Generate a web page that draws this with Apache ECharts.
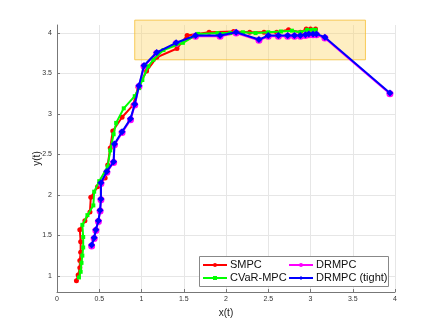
<!DOCTYPE html>
<html>
<head>
<meta charset="utf-8">
<script src="https://cdn.jsdelivr.net/npm/echarts@6/dist/echarts.min.js"></script>
<style>
  html, body { margin: 0; padding: 0; background: #fff; }
  #chart { width: 436px; height: 328px; }
</style>
</head>
<body>
<div id="chart"></div>
<script>
// trajectories
var smpcX = [0.23, 0.25, 0.27, 0.27, 0.28, 0.28, 0.27, 0.33, 0.39, 0.40, 0.48, 0.57, 0.60, 0.63, 0.66, 0.77, 0.90, 0.96, 1.06, 1.18, 1.42, 1.54, 1.80, 2.09, 2.28, 2.45, 2.60, 2.74, 2.88, 2.95, 3.00, 3.06];
var smpcY = [0.94, 1.01, 1.10, 1.19, 1.29, 1.42, 1.57, 1.68, 1.79, 1.97, 2.10, 2.21, 2.37, 2.58, 2.79, 2.96, 3.11, 3.33, 3.53, 3.70, 3.81, 3.97, 4.01, 4.02, 4.01, 4.01, 4.01, 4.04, 4.01, 4.05, 4.05, 4.05];

var cvarX = [0.26, 0.28, 0.29, 0.30, 0.31, 0.31, 0.30, 0.36, 0.43, 0.44, 0.50, 0.60, 0.63, 0.67, 0.70, 0.79, 0.92, 0.97, 1.01, 1.08, 1.14, 1.26, 1.49, 1.67, 1.90, 2.05, 2.20, 2.35, 2.50, 2.65, 2.78, 2.88, 2.96, 3.02, 3.06];
var cvarY = [0.98, 1.05, 1.16, 1.25, 1.35, 1.48, 1.63, 1.75, 1.87, 2.04, 2.17, 2.35, 2.55, 2.75, 2.89, 3.07, 3.22, 3.32, 3.42, 3.59, 3.67, 3.79, 3.88, 3.99, 4.00, 4.00, 4.01, 4.00, 4.01, 4.02, 4.03, 4.01, 4.04, 4.04, 4.04];

var drmpcX = [0.41, 0.44, 0.46, 0.49, 0.51, 0.52, 0.52, 0.59, 0.67, 0.68, 0.77, 0.87, 0.92, 0.97, 1.03, 1.18, 1.41, 1.64, 1.93, 2.12, 2.39, 2.50, 2.62, 2.73, 2.81, 2.88, 2.94, 2.98, 3.03, 3.07, 3.17, 3.94];
var drmpcY = [1.37, 1.46, 1.56, 1.67, 1.80, 1.94, 2.14, 2.28, 2.40, 2.62, 2.77, 2.93, 3.11, 3.34, 3.59, 3.75, 3.87, 3.96, 3.96, 4.00, 3.91, 3.96, 3.96, 3.96, 3.96, 3.96, 3.97, 3.98, 3.98, 3.98, 3.94, 3.25];

var tightX = [0.41, 0.44, 0.46, 0.49, 0.51, 0.52, 0.52, 0.59, 0.67, 0.68, 0.77, 0.87, 0.92, 0.97, 1.03, 1.18, 1.41, 1.64, 1.93, 2.12, 2.39, 2.50, 2.62, 2.73, 2.81, 2.88, 2.94, 2.98, 3.03, 3.07, 3.17, 3.94];
var tightY = [1.38, 1.47, 1.57, 1.68, 1.81, 1.95, 2.15, 2.29, 2.41, 2.63, 2.78, 2.94, 3.12, 3.35, 3.60, 3.76, 3.88, 3.97, 3.97, 4.01, 3.92, 3.97, 3.97, 3.97, 3.97, 3.97, 3.98, 3.99, 3.99, 3.99, 3.95, 3.26];

// target region (x from..to, y from..to)
var regionX = [0.92, 3.65];
var regionY = [3.67, 4.16];

var yTicks = [1, 1.5, 2, 2.5, 3, 3.5, 4];

function zip(xs, ys) {
  return xs.map(function (x, i) { return [x, ys[i]]; });
}

var font = 'Liberation Sans, Arial, Helvetica, sans-serif';
var chart = echarts.init(document.getElementById('chart'));

chart.setOption({
  animation: false,
  textStyle: { fontFamily: font },
  grid: { left: 57, right: 41, top: 25, bottom: 36 },
  xAxis: {
    type: 'value',
    min: 0, max: 4, interval: 0.5,
    name: 'x(t)', nameLocation: 'middle', nameGap: 16,
    nameTextStyle: { fontSize: 10, color: '#222' },
    axisLine: { lineStyle: { color: '#777', width: 1 } },
    axisTick: { inside: true, length: 3, lineStyle: { color: '#777' } },
    axisLabel: { fontSize: 7, color: '#333', margin: 4 },
    splitLine: { show: true, lineStyle: { color: '#e6e6e6', width: 1 } }
  },
  yAxis: {
    type: 'value',
    min: 0.8, max: 4.1,
    name: 'y(t)', nameLocation: 'middle', nameGap: 15, nameRotate: 90,
    nameMoveOverlap: false,
    nameTextStyle: { fontSize: 10, color: '#222' },
    axisLine: { show: true, lineStyle: { color: '#777', width: 1 } },
    axisTick: { show: true, inside: true, length: 3, customValues: yTicks, lineStyle: { color: '#777' } },
    axisLabel: { fontSize: 7, color: '#333', margin: 5, customValues: yTicks },
    splitLine: { show: true, lineStyle: { color: '#e6e6e6', width: 1 } }
  },
  legend: [
    {
      data: ['SMPC', 'CVaR-MPC'], orient: 'vertical',
      left: 202, top: 259, padding: 0, itemGap: 1,
      itemWidth: 24, itemHeight: 5, z: 10,
      textStyle: { fontSize: 11, color: '#111', lineHeight: 12, padding: [0, 0, 0, -2] }
    },
    {
      data: ['DRMPC', 'DRMPC (tight)'], orient: 'vertical',
      left: 288, top: 259, padding: 0, itemGap: 1,
      itemWidth: 24, itemHeight: 5, z: 10,
      textStyle: { fontSize: 11, color: '#111', lineHeight: 12, padding: [0, 0, 0, -2] }
    }
  ],
  graphic: [{
    type: 'rect', z: 5,
    shape: { x: 199.5, y: 256.5, width: 189, height: 30 },
    style: { fill: '#fff', stroke: '#888', lineWidth: 1 }
  }],
  series: [
    {
      type: 'custom', name: 'region', silent: true, clip: false, z: 1,
      data: [[regionX[0], regionY[0], regionX[1], regionY[1]]],
      renderItem: function (params, api) {
        var p0 = api.coord([api.value(0), api.value(3)]);
        var p1 = api.coord([api.value(2), api.value(1)]);
        return {
          type: 'rect',
          shape: { x: p0[0], y: p0[1], width: p1[0] - p0[0], height: p1[1] - p0[1] },
          style: { fill: 'rgba(253,215,110,0.42)', stroke: 'rgba(245,190,50,0.8)', lineWidth: 1 }
        };
      }
    },
    {
      type: 'line', name: 'SMPC', data: zip(smpcX, smpcY), z: 3,
      symbol: 'circle', symbolSize: 5, showAllSymbol: true,
      lineStyle: { color: '#ff0000', width: 2 },
      itemStyle: { color: '#ff0000', borderWidth: 0 }
    },
    {
      type: 'line', name: 'DRMPC', data: zip(drmpcX, drmpcY), z: 4,
      symbol: 'circle', symbolSize: 7, showAllSymbol: true,
      lineStyle: { color: '#ff00ff', width: 2 },
      itemStyle: { color: '#ff00ff', borderWidth: 0 }
    },
    {
      type: 'line', name: 'CVaR-MPC', data: zip(cvarX, cvarY), z: 5,
      symbol: 'rect', symbolSize: 4, showAllSymbol: true,
      lineStyle: { color: '#00ff00', width: 2 },
      itemStyle: { color: '#00ff00', borderWidth: 0 }
    },
    {
      type: 'line', name: 'DRMPC (tight)', data: zip(tightX, tightY), z: 6,
      symbol: 'diamond', symbolSize: 7, showAllSymbol: true,
      lineStyle: { color: '#0000ff', width: 2 },
      itemStyle: { color: '#0000ff', borderWidth: 0 }
    }
  ]
});
</script>
</body>
</html>
